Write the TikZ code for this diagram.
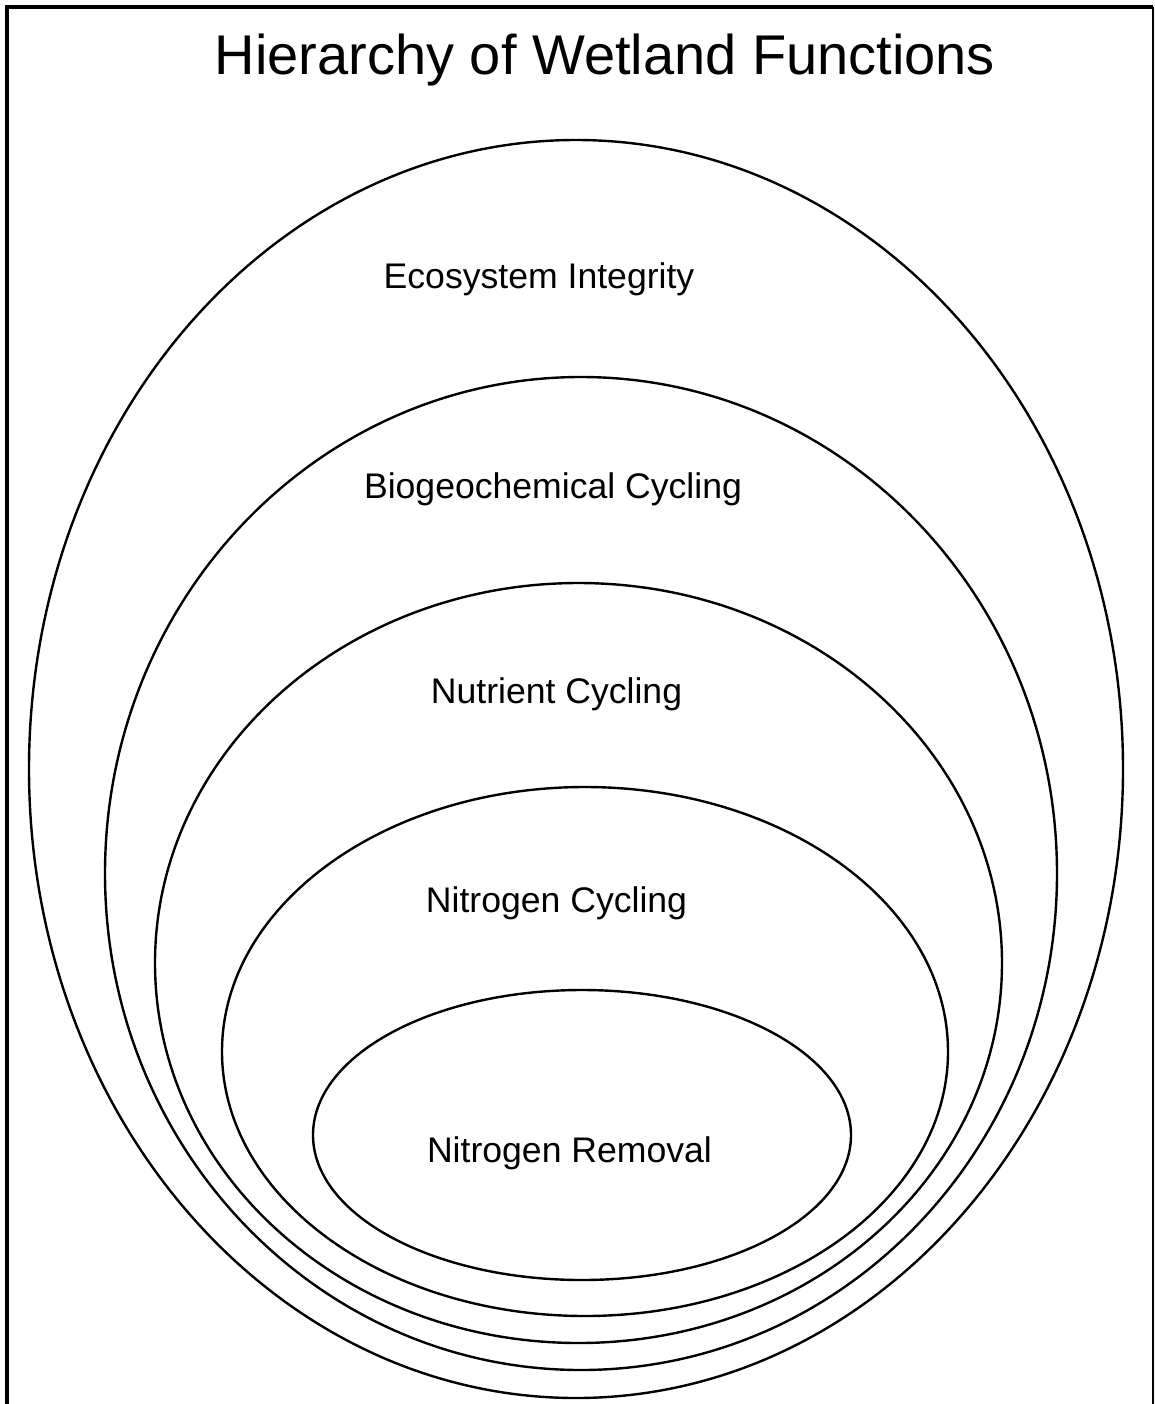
\documentclass[tikz,border=0pt]{standalone}
\usepackage{fontspec}
\setmainfont{Liberation Sans}
\usepackage{tikz}
\usetikzlibrary{positioning}

\begin{document}
\begin{tikzpicture}[
            x=0.5pt, y=-0.5pt,
            ring/.style={draw, line width=1.2pt},
            fnlabel/.style={anchor=base, font=\fontsize{17.8}{20}\selectfont},
            heading/.style={anchor=base, font=\fontsize{28}{32}\selectfont}
        ]
            \useasboundingbox (0,0) rectangle (1155,1404);
            % frame, open at the bottom
            \draw[line width=2.2pt] (7,1404) -- (7,7) -- (1153,7);
            \draw[line width=1.2pt] (1153,7) -- (1153,1404);

            \node[heading] (title) at (605,74) {Hierarchy of Wetland Functions};

            % nested functions
            \draw[ring] (576,769) ellipse [x radius=547, y radius=629];
            \draw[ring] (581,873.5) ellipse [x radius=476, y radius=496.5];
            \draw[ring] (578.5,963) ellipse [x radius=423.5, y radius=380];
            \draw[ring] (585,1051.5) ellipse [x radius=363, y radius=264.5];
            \draw[ring] (582,1135) ellipse [x radius=269, y radius=145];

            \node[fnlabel] (eco) at (539,288) {Ecosystem Integrity};
            \node[fnlabel] (bgc) at (553,498) {Biogeochemical Cycling};
            \node[fnlabel] (nut) at (556.5,703) {Nutrient Cycling};
            \node[fnlabel] (ncyc) at (556.5,912) {Nitrogen Cycling};
            \node[fnlabel] (nrem) at (569.5,1162) {Nitrogen Removal};
        \end{tikzpicture}
\end{document}
